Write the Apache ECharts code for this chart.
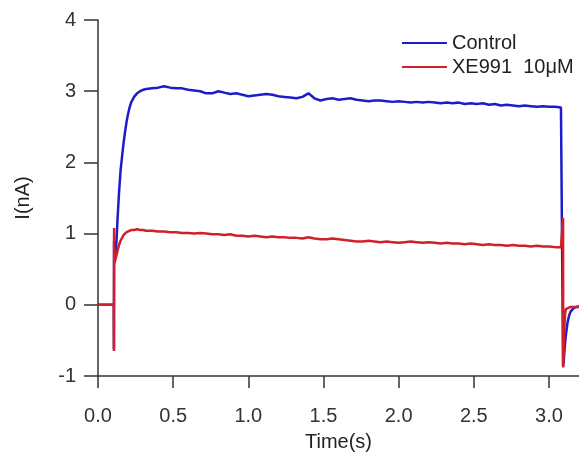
<!DOCTYPE html>
<html>
<head>
<meta charset="utf-8">
<script src="https://cdn.jsdelivr.net/npm/echarts@6/dist/echarts.min.js"></script>
<style>
html,body{margin:0;padding:0;background:#fff;}
#c{width:579px;height:457px;}
</style>
</head>
<body>
<div id="c"></div>
<script>
// ---- data ----
const seriesNames = ['Control', 'XE991  10\u03bcM'];
const xTicks = [0, 0.5, 1.0, 1.5, 2.0, 2.5, 3.0];
const yTicks = [-1, 0, 1, 2, 3, 4];

const plateauTime = [0.32,0.36,0.40,0.44,0.48,0.52,0.56,0.60,0.64,0.68,0.72,0.76,0.80,0.84,0.88,0.92,0.96,1.00,1.04,1.08,1.12,1.16,1.20,1.24,1.28,1.32,1.36,1.40,1.44,1.48,1.52,1.56,1.60,1.64,1.68,1.72,1.76,1.80,1.84,1.88,1.92,1.96,2.00,2.04,2.08,2.12,2.16,2.20,2.24,2.28,2.32,2.36,2.40,2.44,2.48,2.52,2.56,2.60,2.64,2.68,2.72,2.76,2.80,2.84,2.88,2.92,2.96,3.00,3.04,3.08];

const controlTime = [0,0.105,0.106,0.107,0.109,0.113,0.118,0.124,0.13,0.14,0.15,0.16,0.17,0.18,0.19,0.20,0.21,0.22,0.24,0.26,0.28,0.30]
  .concat(plateauTime)
  .concat([3.093,3.094,3.098,3.103,3.108,3.113,3.118,3.123,3.133,3.143,3.163,3.183,3.2]);
const controlCurrent = [0,0,-0.62,0.9,0.6,0.62,0.72,0.94,1.2,1.58,1.88,2.08,2.27,2.43,2.57,2.68,2.77,2.84,2.92,2.97,3.0,3.02,
  3.03,3.04,3.05,3.07,3.05,3.04,3.04,3.02,3.01,3.0,2.97,2.97,3.0,2.98,2.96,2.97,2.95,2.93,2.94,2.95,2.96,2.95,2.93,2.92,2.91,2.90,2.92,2.97,2.90,2.87,2.89,2.90,2.88,2.89,2.90,2.88,2.87,2.86,2.87,2.87,2.86,2.85,2.86,2.85,2.84,2.85,2.84,2.85,2.84,2.83,2.84,2.83,2.84,2.82,2.83,2.82,2.83,2.81,2.82,2.80,2.81,2.80,2.79,2.80,2.79,2.78,2.79,2.78,2.78,2.77,
  2.76,-0.86,-0.8,-0.65,-0.52,-0.42,-0.34,-0.26,-0.16,-0.1,-0.05,-0.03,-0.02];

const xeTime = [0,0.105,0.106,0.107,0.109,0.113,0.12,0.13,0.14,0.15,0.16,0.17,0.18,0.19,0.20,0.22,0.24,0.26,0.28,0.30]
  .concat(plateauTime)
  .concat([3.093,3.094,3.095,3.099,3.103,3.108,3.113,3.123,3.143,3.2]);
const xeCurrent = [0,0,-0.65,1.08,0.58,0.6,0.67,0.76,0.84,0.9,0.94,0.98,1.0,1.02,1.04,1.05,1.05,1.06,1.05,1.05,
  1.04,1.04,1.03,1.03,1.02,1.02,1.01,1.01,1.0,1.01,1.0,0.99,0.99,0.98,0.99,0.97,0.97,0.96,0.97,0.96,0.95,0.96,0.95,0.95,0.94,0.94,0.93,0.95,0.93,0.92,0.92,0.93,0.92,0.91,0.90,0.89,0.89,0.90,0.89,0.88,0.89,0.88,0.87,0.88,0.89,0.88,0.87,0.88,0.87,0.86,0.87,0.86,0.86,0.85,0.86,0.85,0.84,0.85,0.84,0.84,0.83,0.84,0.83,0.83,0.82,0.83,0.82,0.82,0.81,0.81,
  0.8,1.22,-0.88,-0.6,-0.3,-0.12,-0.06,-0.04,-0.03,-0.03];

function zip(t, v) { return t.map((x, i) => [x, v[i]]); }

const chart = echarts.init(document.getElementById('c'), null, {renderer: 'canvas'});
const fontFam = '"Liberation Sans", Arial, Helvetica, sans-serif';
const axisCol = '#333';
chart.setOption({
  animation: false,
  backgroundColor: '#fff',
  grid: {left: 98, right: 0, top: 20, bottom: 77, containLabel: false},
  legend: {
    orient: 'vertical', left: 397, top: 28, itemGap: 4,
    itemWidth: 45, itemHeight: 2, itemTextGap: 4, icon: 'rect',
    textStyle: {fontFamily: fontFam, fontSize: 20, color: '#222'},
    data: seriesNames
  },
  xAxis: {
    type: 'value', min: 0, max: 3.2, interval: 0.5,
    name: 'Time(s)', nameLocation: 'middle', nameGap: 56,
    nameTextStyle: {fontFamily: fontFam, fontSize: 20, color: '#222'},
    axisLine: {show: true, onZero: false, lineStyle: {color: axisCol, width: 1.5}},
    axisTick: {show: true, length: 12, lineStyle: {color: axisCol, width: 1.5}, customValues: xTicks},
    axisLabel: {fontFamily: fontFam, fontSize: 20, color: '#333', margin: 30, customValues: xTicks,
      formatter: v => v.toFixed(1)},
    splitLine: {show: false}
  },
  yAxis: {
    type: 'value', min: -1, max: 4, interval: 1,
    name: 'I(nA)', nameLocation: 'middle', nameGap: 65,
    nameTextStyle: {fontFamily: fontFam, fontSize: 20, color: '#222'},
    axisLine: {show: true, onZero: false, lineStyle: {color: axisCol, width: 1.5}},
    axisTick: {show: true, length: 14, lineStyle: {color: axisCol, width: 1.5}, customValues: yTicks},
    axisLabel: {fontFamily: fontFam, fontSize: 20, color: '#333', margin: 22, customValues: yTicks},
    splitLine: {show: false}
  },
  series: [
    {name: seriesNames[0], type: 'line', data: zip(controlTime, controlCurrent), showSymbol: false, symbol: 'none',
     lineStyle: {color: '#1c1cc8', width: 2.5}, itemStyle: {color: '#1c1cc8'}, z: 2},
    {name: seriesNames[1], type: 'line', data: zip(xeTime, xeCurrent), showSymbol: false, symbol: 'none',
     lineStyle: {color: '#d0202c', width: 2.5}, itemStyle: {color: '#d0202c'}, z: 3}
  ]
});
</script>
</body>
</html>
